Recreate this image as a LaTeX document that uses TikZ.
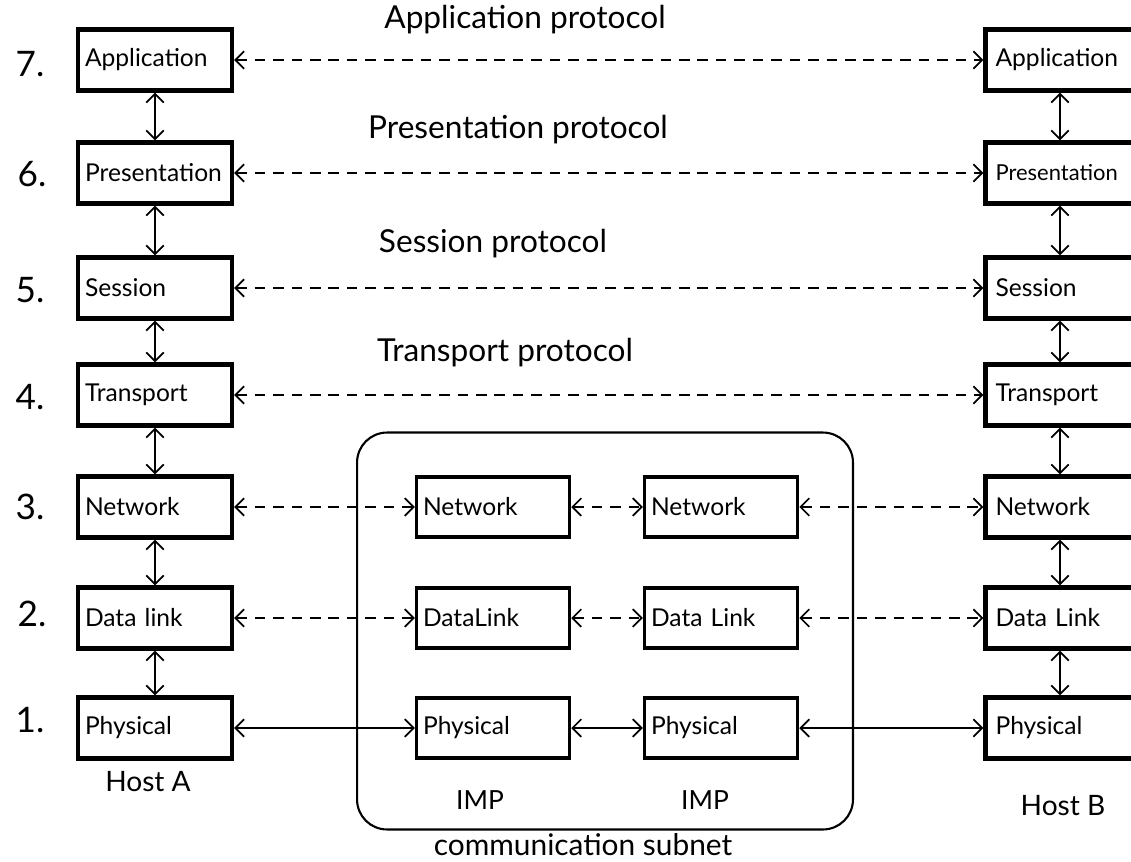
\documentclass[tikz,border=0pt]{standalone}
\usepackage{fontspec}
\setmainfont{Lato}
\usetikzlibrary{arrows.meta}
\tikzset{
  boxfont/.style={font=\fontsize{14}{16}\selectfont},
  hostbox/.style={draw, line width=2.4pt, minimum width=3.08cm, minimum height=1.22cm, inner sep=0pt, text width=2.8cm, align=left, boxfont},
  hostboxB/.style={hostbox, minimum width=3.3cm, text width=2.9cm},
  impbox/.style={draw, line width=2pt, minimum width=3.06cm, minimum height=1.2cm, inner sep=0pt, text width=2.8cm, align=left, boxfont},
  conn/.style={line width=1pt, {Straight Barb[length=5pt,width=10pt]}-{Straight Barb[length=5pt,width=10pt]}},
  dconn/.style={conn, dash pattern=on 6pt off 4.5pt},
  lbl/.style={font=\fontsize{16}{18}\selectfont, inner sep=0},
  num/.style={font=\fontsize{20}{22}\selectfont, inner sep=0},
  plbl/.style={font=\fontsize{18}{20}\selectfont, inner sep=0},
}
\begin{document}
\begin{tikzpicture}[x=0.02cm,y=-0.02cm]
\useasboundingbox (0,0) rectangle (1131,861);
\clip (0,0) rectangle (1131,861);
\fill[white] (0,0) rectangle (1131,861);

% communication subnet
\node[draw, line width=1.2pt, rounded corners=0.6cm, minimum width=9.92cm, minimum height=7.94cm] (subnet) at (605,631) {};
\node[font=\fontsize{17}{19}\selectfont, inner sep=0] (subnetlbl) at (583,845) {communication subnet};

% Host A
\node[hostbox] (a7) at (155,60) {Application};
\node[hostbox] (a6) at (155,173) {Presentation};
\node[hostbox] (a5) at (155,288) {Session};
\node[hostbox] (a4) at (155,395) {Transport};
\node[hostbox] (a3) at (155,507) {Network};
\node[hostbox] (a2) at (155,618) {Data link};
\node[hostbox] (a1) at (155,728) {Physical};
\node[lbl] (hosta) at (148,782) {Host A};

% Host B
\node[hostboxB] (b7) at (1068,60) {Application};
\node[hostboxB, font=\fontsize{12.5}{14}\selectfont] (b6) at (1068,173) {Presentation};
\node[hostboxB] (b5) at (1068,288) {Session};
\node[hostboxB] (b4) at (1068,395) {Transport};
\node[hostboxB] (b3) at (1068,507) {Network};
\node[hostboxB] (b2) at (1068,618) {Data Link};
\node[hostboxB] (b1) at (1068,728) {Physical};
\node[lbl] (hostb) at (1063,806) {Host B};

% IMPs
\node[impbox] (i3) at (493,507) {Network};
\node[impbox] (i2) at (493,618) {DataLink};
\node[impbox] (i1) at (493,728) {Physical};
\node[impbox] (j3) at (721,507) {Network};
\node[impbox] (j2) at (721,618) {Data Link};
\node[impbox] (j1) at (721,728) {Physical};
\node[font=\fontsize{15}{17}\selectfont, inner sep=0] (imp1) at (480,800) {IMP};
\node[font=\fontsize{15}{17}\selectfont, inner sep=0] (imp2) at (705,800) {IMP};

% layer numbers
\node[num] (n7) at (30,64) {7.};
\node[num] (n6) at (32,174) {6.};
\node[num] (n5) at (30,290) {5.};
\node[num] (n4) at (30,397) {4.};
\node[num] (n3) at (30,507) {3.};
\node[num] (n2) at (32,614) {2.};
\node[num] (n1) at (30,720) {1.};

% protocol labels
\node[plbl] (p7) at (525,20) {Application protocol};
\node[plbl] (p6) at (518,130) {Presentation protocol};
\node[plbl] (p5) at (493,244) {Session protocol};
\node[plbl] (p4) at (505,353) {Transport protocol};

% vertical connectors
\foreach \u/\l in {7/6,6/5,5/4,4/3,3/2,2/1}{
  \draw[conn] (a\u) -- (a\l);
  \draw[conn] ([xshift=-0.16cm]b\u.south) -- ([xshift=-0.16cm]b\l.north);
}

% peer protocols
\draw[dconn] (a7) -- (b7);
\draw[dconn] (a6) -- (b6);
\draw[dconn] (a5) -- (b5);
\draw[dconn] (a4) -- (b4);
\draw[dconn] (a3) -- (i3);
\draw[dconn] (i3) -- (j3);
\draw[dconn] (j3) -- (b3);
\draw[dconn] (a2) -- (i2);
\draw[dconn] (i2) -- (j2);
\draw[dconn] (j2) -- (b2);
\draw[conn] (a1) -- (i1);
\draw[conn] (i1) -- (j1);
\draw[conn] (j1) -- (b1);
\end{tikzpicture}
\end{document}
